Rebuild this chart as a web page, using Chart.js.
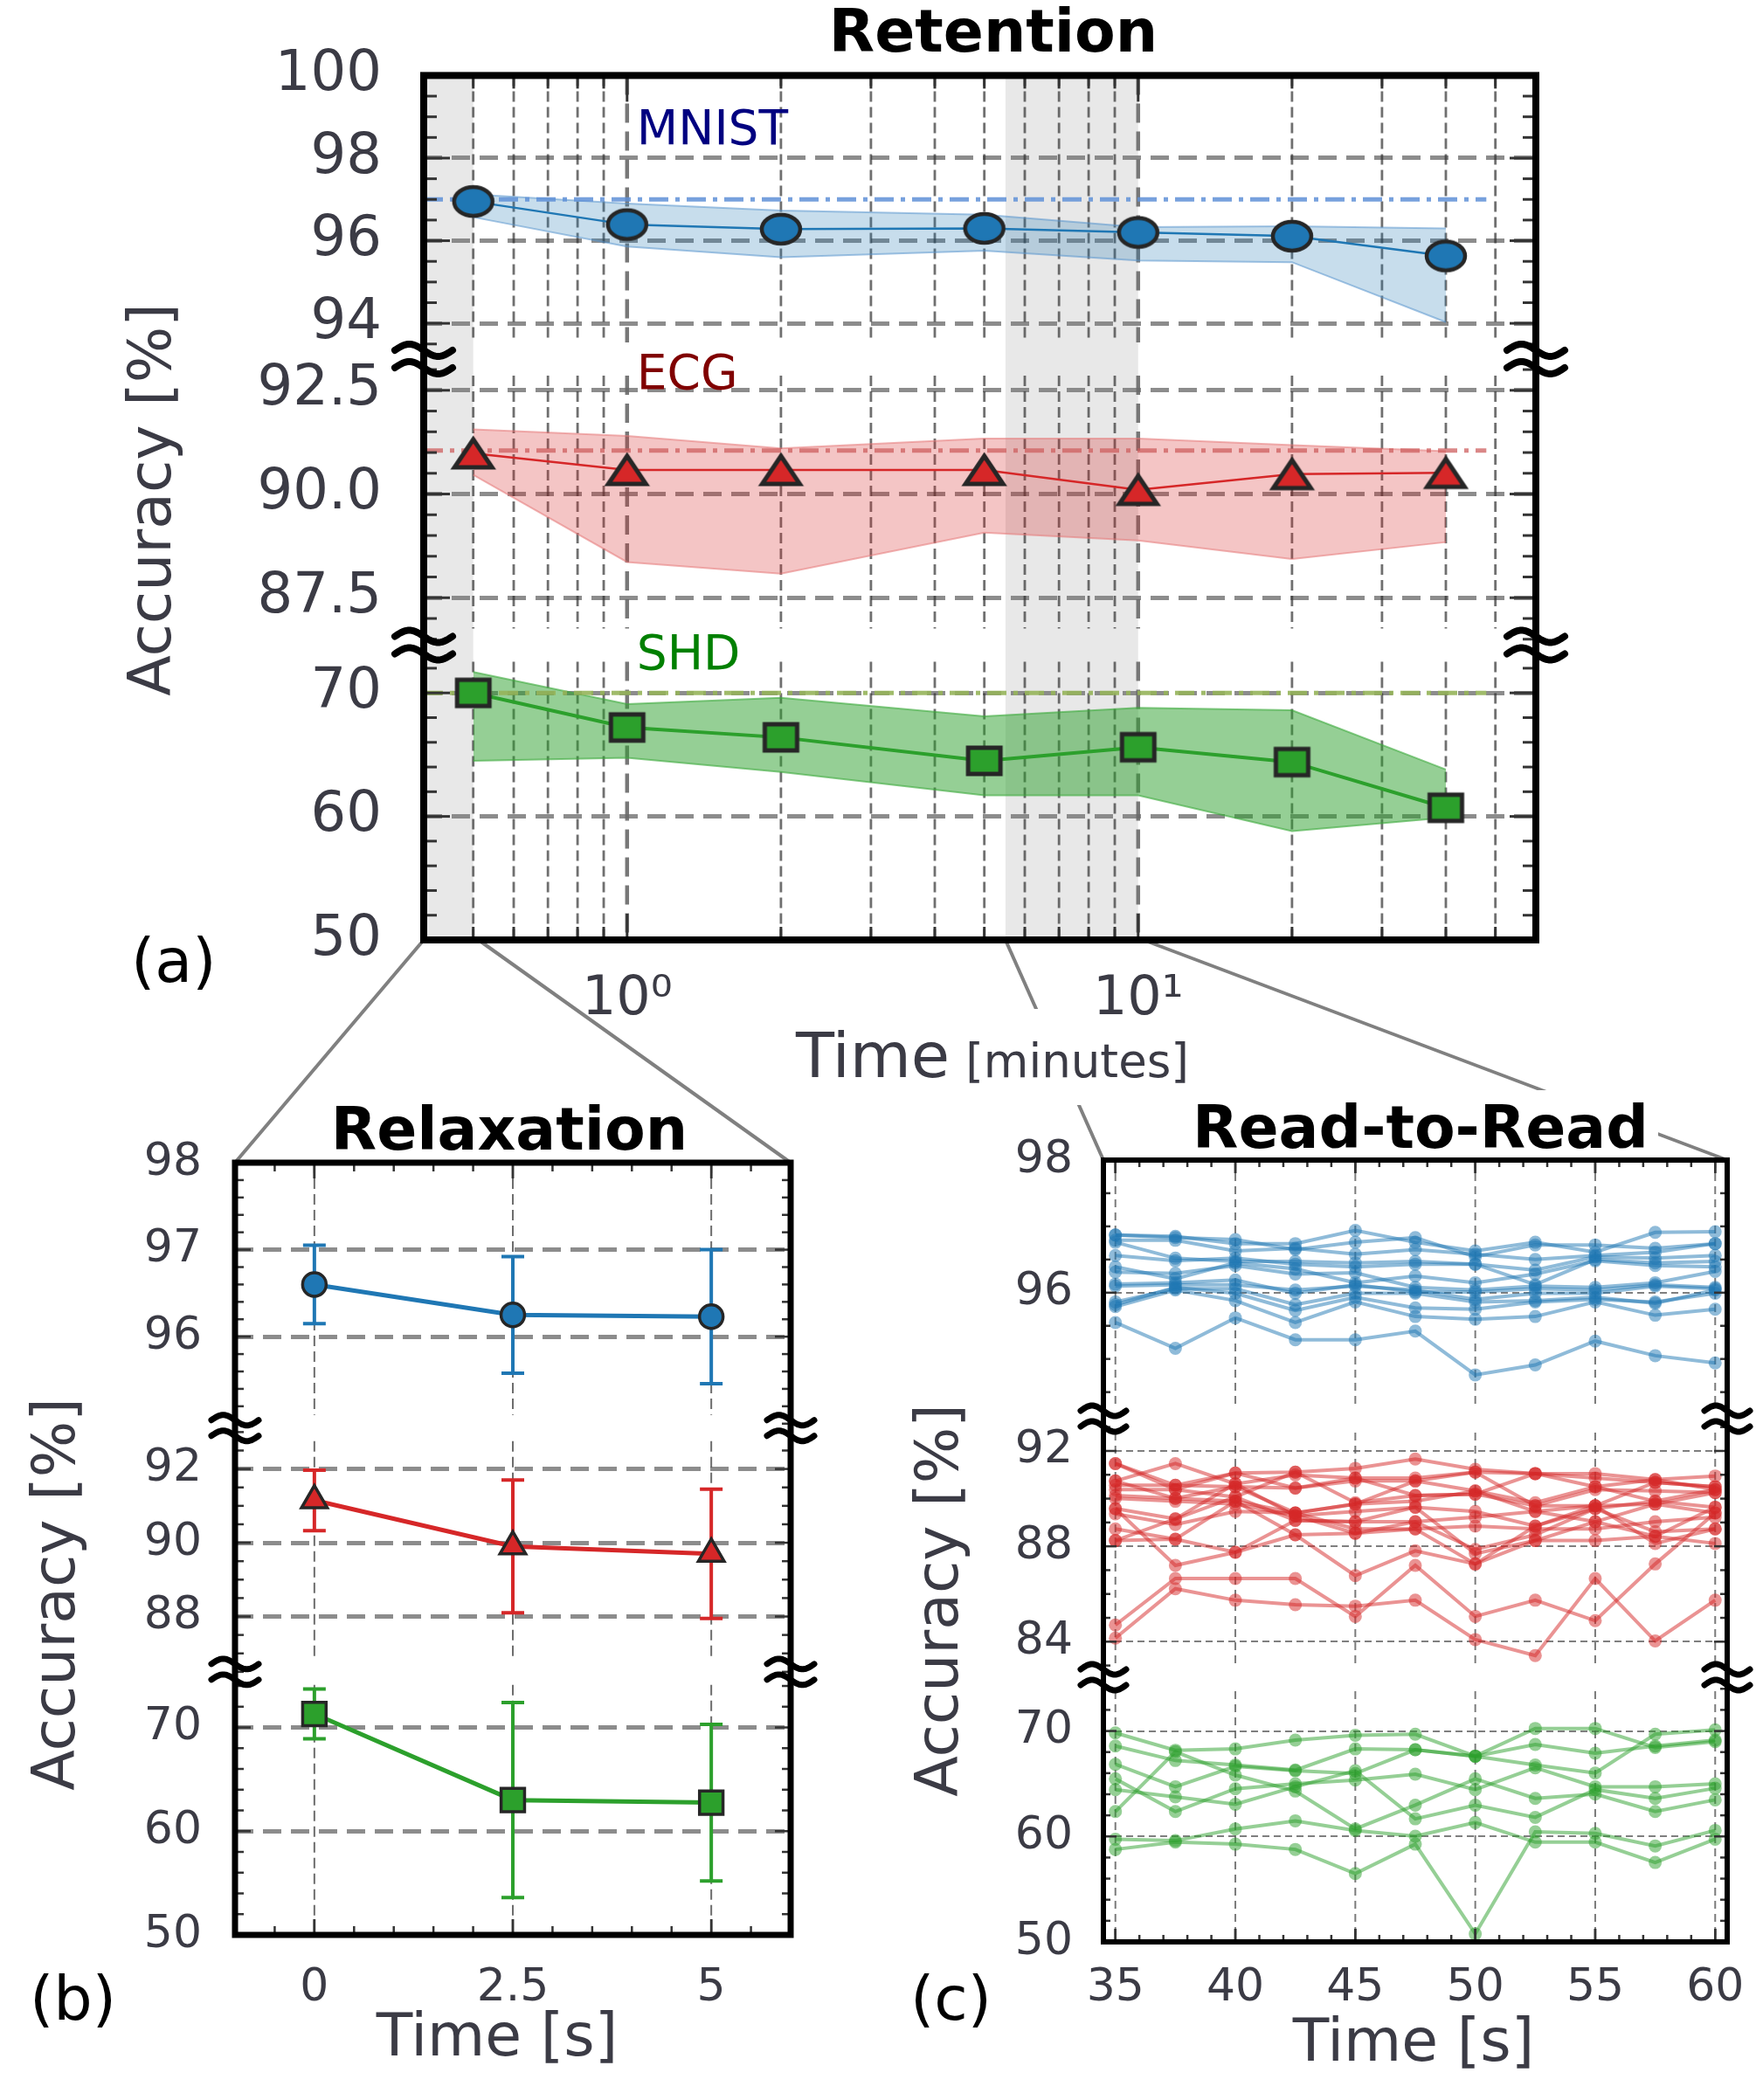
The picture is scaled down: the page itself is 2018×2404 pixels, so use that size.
<!DOCTYPE html>
<html>
<head>
<meta charset="utf-8">
<script src="https://cdn.jsdelivr.net/npm/chart.js@4.4.1/dist/chart.umd.min.js"></script>
<style>
  html, body { margin:0; padding:0; background:#ffffff; }
  body { width:2018px; height:2404px; position:relative; overflow:hidden; }
  canvas { position:absolute; }
</style>
</head>
<body>
<canvas id="conn" width="2018" height="2404" style="left:0px;top:0px;width:2018px;height:2404px"></canvas>
<canvas id="ca" width="2018" height="1300" style="left:0px;top:0px"></canvas>
<canvas id="cb" width="1000" height="1164" style="left:0px;top:1240px"></canvas>
<canvas id="cc" width="1018" height="1164" style="left:1000px;top:1240px"></canvas>
<script>
// ================= DATA =================
// (a) Retention  (time in minutes)
const retTimes   = [0.5, 1, 2, 5, 10, 20, 40];
const retMNIST   = [96.95, 96.39, 96.28, 96.30, 96.20, 96.11, 95.63];
const retMNISTHi = [97.12, 96.90, 96.73, 96.63, 96.33, 96.35, 96.30];
const retMNISTLo = [96.57, 95.86, 95.60, 95.76, 95.52, 95.48, 94.03];
const retECG     = [90.98, 90.58, 90.58, 90.58, 90.10, 90.48, 90.51];
const retECGHi   = [91.56, 91.40, 91.10, 91.34, 91.34, 91.18, 91.03];
const retECGLo   = [90.46, 88.36, 88.08, 89.07, 88.88, 88.43, 88.84];
const retSHD     = [70.0, 67.2, 66.4, 64.5, 65.6, 64.4, 60.7];
const retSHDHi   = [71.7, 69.1, 69.6, 68.1, 68.8, 68.6, 63.8];
const retSHDLo   = [64.5, 64.75, 63.6, 61.7, 61.7, 58.8, 59.9];
const retBaseline     = [97.0, 91.05, 70.0];   // MNIST, ECG, SHD reference accuracy
const retBaselineSpan = [0.4, 48];
const retShaded  = [[0.4, 0.5], [5.5, 10]];
const retXTicks  = [1, 10];
const retXMinor  = [0.5, 0.6, 0.7, 0.8, 0.9, 2, 3, 4, 5, 6, 7, 8, 9, 20, 30, 40, 50];
const retYTicksMNIST = [94, 96, 98, 100];
const retYTicksECG   = [87.5, 90, 92.5];
const retYTicksSHD   = [50, 60, 70];

// (b) Relaxation (time in s)
const relTimes    = [0, 2.5, 5];
const relMNIST    = [96.60, 96.25, 96.23];
const relMNISTErr = [0.45, 0.67, 0.77];
const relECG      = [91.15, 89.90, 89.70];
const relECGErr   = [0.82, 1.80, 1.75];
const relSHD      = [71.3, 63.0, 62.75];
const relSHDErr   = [2.4, 9.4, 7.55];
const relXTicks   = [0, 2.5, 5];
const relYTicksMNIST = [96, 97, 98];
const relYTicksECG   = [88, 90, 92];
const relYTicksSHD   = [50, 60, 70];

// (c) Read-to-Read (time in s)
const r2rTimes = [35, 37.5, 40, 42.5, 45, 47.5, 50, 52.5, 55, 57.5, 60];
const r2rMNIST = [
  [96.87, 96.85, 96.74, 96.74, 96.94, 96.76, 96.63, 96.76, 96.61, 96.91, 96.92],
  [96.87, 96.83, 96.80, 96.65, 96.76, 96.83, 96.54, 96.72, 96.72, 96.67, 96.74],
  [96.79, 96.79, 96.63, 96.67, 96.58, 96.65, 96.58, 96.50, 96.56, 96.61, 96.74],
  [96.76, 96.52, 96.47, 96.47, 96.45, 96.47, 96.43, 96.34, 96.54, 96.52, 96.56],
  [96.56, 96.48, 96.52, 96.43, 96.39, 96.43, 96.43, 96.12, 96.50, 96.45, 96.47],
  [96.39, 96.21, 96.45, 96.36, 96.15, 96.25, 96.15, 96.28, 96.48, 96.41, 96.39],
  [96.31, 96.29, 96.41, 96.28, 96.30, 96.08, 96.04, 96.10, 96.08, 96.15, 96.32],
  [96.13, 96.15, 96.19, 95.99, 96.12, 96.01, 96.01, 96.06, 96.04, 96.12, 96.08],
  [96.10, 96.12, 96.12, 96.04, 96.10, 96.04, 95.90, 95.99, 95.99, 96.10, 96.06],
  [95.86, 96.06, 96.06, 95.82, 95.99, 95.99, 95.86, 95.88, 95.93, 95.84, 96.04],
  [95.82, 96.08, 95.99, 95.73, 95.93, 95.77, 95.75, 95.86, 95.90, 95.86, 95.99],
  [95.79, 96.04, 95.88, 95.55, 95.86, 95.64, 95.60, 95.64, 95.86, 95.66, 95.75],
  [95.55, 95.16, 95.62, 95.29, 95.29, 95.42, 94.76, 94.91, 95.27, 95.05, 94.94]
];
const r2rECG = [
  [91.47, 90.38, 91.07, 91.11, 91.27, 91.66, 91.23, 91.05, 91.05, 90.80, 90.95],
  [90.74, 91.47, 90.62, 90.99, 90.86, 90.86, 91.11, 91.05, 90.86, 90.68, 90.50],
  [90.56, 90.56, 90.50, 90.44, 90.74, 90.74, 90.32, 89.83, 90.50, 90.80, 90.38],
  [90.38, 90.38, 90.07, 91.11, 89.83, 90.13, 90.19, 89.70, 90.38, 90.32, 90.25],
  [90.13, 90.01, 89.89, 89.40, 89.77, 89.89, 90.32, 89.46, 89.70, 90.68, 90.50],
  [90.01, 89.89, 89.77, 89.28, 89.46, 89.64, 89.46, 88.85, 89.58, 89.89, 89.64],
  [89.58, 89.15, 90.07, 89.09, 89.03, 89.03, 89.22, 89.46, 89.03, 89.77, 89.40],
  [89.36, 88.91, 89.46, 89.40, 88.73, 88.73, 88.85, 88.73, 88.73, 89.03, 89.22],
  [88.73, 88.30, 89.89, 88.48, 88.55, 89.03, 87.87, 88.48, 89.58, 88.61, 88.73],
  [88.24, 88.30, 87.75, 89.09, 89.03, 89.64, 87.69, 88.24, 88.24, 88.42, 88.12],
  [89.58, 87.20, 87.75, 88.48, 86.77, 87.81, 87.26, 88.85, 89.70, 88.12, 88.73],
  [84.70, 86.65, 86.65, 86.65, 85.06, 87.20, 85.06, 85.74, 84.88, 87.26, 89.40],
  [84.15, 86.22, 85.74, 85.55, 85.49, 85.74, 84.09, 83.42, 86.65, 84.03, 85.74],
  [91.47, 90.56, 91.07, 90.44, 90.86, 90.13, 90.19, 91.05, 90.50, 89.89, 90.38],
  [90.74, 90.01, 90.50, 89.40, 89.77, 90.74, 91.11, 89.70, 89.70, 89.77, 90.25],
  [88.24, 89.15, 90.62, 89.28, 88.55, 88.73, 87.26, 88.24, 89.03, 88.42, 89.64]
];
const r2rSHD = [
  [69.82, 68.17, 68.30, 69.13, 69.60, 69.69, 67.61, 70.24, 70.24, 68.44, 68.99],
  [68.58, 67.20, 66.78, 66.29, 68.30, 68.22, 67.61, 68.72, 67.89, 68.58, 69.13],
  [66.84, 64.71, 66.65, 66.23, 65.96, 68.22, 67.61, 66.78, 66.01, 69.69, 70.10],
  [65.46, 62.36, 64.52, 64.99, 65.35, 65.90, 64.44, 66.51, 64.71, 64.71, 64.99],
  [64.44, 63.75, 63.05, 64.71, 66.23, 61.67, 62.97, 61.81, 64.44, 63.61, 64.57],
  [62.36, 68.03, 65.82, 64.30, 60.71, 62.97, 65.46, 63.61, 64.02, 62.36, 63.47],
  [59.74, 59.60, 60.71, 61.48, 60.57, 60.02, 61.32, 59.46, 59.46, 57.53, 59.74],
  [58.77, 59.46, 59.27, 58.77, 56.48, 59.27, 50.76, 60.43, 60.29, 59.10, 60.57]
];
const r2rXTicks = [35, 40, 45, 50, 55, 60];
const r2rYTicksMNIST = [96, 98];
const r2rYTicksECG   = [84, 88, 92];
const r2rYTicksSHD   = [50, 60, 70];

// ================= HELPERS =================
const FONT = "'DejaVu Sans', 'Noto Sans', sans-serif";
const TXT = '#3b3b45';
Chart.defaults.font.family = FONT;
Chart.defaults.color = TXT;

function range(a, b, s) {
  const out = [];
  const n0 = Math.ceil(a / s - 1e-9), n1 = Math.floor(b / s + 1e-9);
  for (let k = n0; k <= n1; k++) out.push(+(k * s).toFixed(6));
  return out;
}
function pts(xs, ys) { return xs.map((x, i) => ({x: x, y: ys[i]})); }

function drawText(ctx, s, x, y, font, color, align, base, rot) {
  ctx.save();
  ctx.font = font; ctx.fillStyle = color;
  ctx.textAlign = align || 'left'; ctx.textBaseline = base || 'alphabetic';
  ctx.translate(x, y); if (rot) ctx.rotate(rot * Math.PI / 180);
  ctx.fillText(s, 0, 0);
  ctx.restore();
}

function drawBreak(ctx, x, y, b) {
  ctx.save();
  ctx.strokeStyle = '#000'; ctx.lineWidth = b.lw; ctx.lineCap = 'round'; ctx.lineJoin = 'round';
  ctx.setLineDash([]);
  [-b.sep / 2, b.sep / 2].forEach(dy => {
    ctx.beginPath();
    for (let k = 0; k <= 30; k++) {
      const t = k / 30;
      const px = x - b.w / 2 + t * b.w;
      const py = y + dy - b.amp * Math.sin(2 * Math.PI * t);
      if (k === 0) ctx.moveTo(px, py); else ctx.lineTo(px, py);
    }
    ctx.stroke();
  });
  ctx.restore();
}

function markerImg(shape, w, h, fill, lw) {
  const pad = Math.ceil(lw) + 4;
  const c = document.createElement('canvas');
  c.width = Math.ceil(w + 2 * pad); c.height = Math.ceil(h + 2 * pad);
  const g = c.getContext('2d');
  const cx = c.width / 2, cy = c.height / 2;
  g.fillStyle = fill; g.strokeStyle = '#262626'; g.lineWidth = lw; g.lineJoin = 'miter';
  g.beginPath();
  if (shape === 'ellipse') g.ellipse(cx, cy, w / 2, h / 2, 0, 0, Math.PI * 2);
  else if (shape === 'tri') { g.moveTo(cx, cy - h / 2); g.lineTo(cx + w / 2, cy + h / 2); g.lineTo(cx - w / 2, cy + h / 2); g.closePath(); }
  else g.rect(cx - w / 2, cy - h / 2, w, h);
  g.fill(); g.stroke();
  return c;
}

function panelPlugin(P) {
  return {
    id: 'panel' + P.name,
    beforeDraw(chart) {
      const ctx = chart.ctx, ca = chart.chartArea, xs = chart.scales.x;
      ctx.save();
      ctx.fillStyle = '#ffffff';
      (P.whiteBoxes || []).forEach(b => ctx.fillRect(b[0], b[1], b[2], b[3]));
      (P.bands || []).forEach(b => {
        const x0 = xs.getPixelForValue(b[0]), x1 = xs.getPixelForValue(b[1]);
        ctx.fillStyle = P.bandColor;
        ctx.fillRect(x0, ca.top, x1 - x0, ca.bottom - ca.top);
      });
      ctx.restore();
    },
    beforeDatasetsDraw(chart) {
      const ctx = chart.ctx, xs = chart.scales.x, n = P.segs.length;
      const spans = P.segs.map((s, i) => {
        const sc = chart.scales[s.id];
        return [sc.top + (i > 0 ? P.gap : 0), sc.bottom - (i < n - 1 ? P.gap : 0)];
      });
      P.vlines.forEach(g => {
        ctx.save();
        ctx.strokeStyle = g.color; ctx.lineWidth = g.width; ctx.setLineDash(g.dash);
        g.values.forEach(v => {
          const x = xs.getPixelForValue(v);
          spans.forEach(sp => { ctx.beginPath(); ctx.moveTo(x, sp[0]); ctx.lineTo(x, sp[1]); ctx.stroke(); });
        });
        ctx.restore();
      });
    },
    afterDraw(chart) {
      const ctx = chart.ctx, ca = chart.chartArea, xs = chart.scales.x;
      const L = ca.left, R = ca.right, T = ca.top, B = ca.bottom;
      ctx.save();
      ctx.strokeStyle = P.tickColor; ctx.lineWidth = P.tickWidth; ctx.setLineDash([]);
      const seg = (x0, y0, x1, y1) => { ctx.beginPath(); ctx.moveTo(x0, y0); ctx.lineTo(x1, y1); ctx.stroke(); };
      P.segs.forEach(s => {
        const sc = chart.scales[s.id];
        range(s.min, s.max, s.minor).forEach(v => {
          const len = s.ticks.some(t => Math.abs(t - v) < 1e-6) ? P.majorLen : P.minorLen;
          const y = sc.getPixelForValue(v);
          seg(L, y, L + len, y); seg(R, y, R - len, y);
        });
      });
      P.xMinor.concat(P.xTicks).forEach(v => {
        const len = P.xTicks.indexOf(v) >= 0 ? P.majorLen : P.minorLen;
        const x = xs.getPixelForValue(v);
        seg(x, B, x, B - len); seg(x, T, x, T + len);
      });
      ctx.strokeStyle = '#000'; ctx.lineWidth = P.frameWidth; ctx.lineJoin = 'miter';
      ctx.strokeRect(L, T, R - L, B - T);
      ctx.restore();
      for (let i = 0; i < P.segs.length - 1; i++) {
        const y = chart.scales[P.segs[i].id].bottom;
        drawBreak(ctx, L, y, P.brk); drawBreak(ctx, R, y, P.brk);
      }
      P.texts(chart, ctx);
    }
  };
}

function makeChart(id, P, datasets, xCfg, pad) {
  const scales = { x: xCfg };
  P.segs.forEach((s, i) => {
    scales[s.id] = {
      type: 'linear', position: 'left', stack: 'ystack', stackWeight: s.weight, weight: P.segs.length - i,
      min: s.min, max: s.max,
      afterBuildTicks: sc => { sc.ticks = s.ticks.map(v => ({value: v})); },
      afterFit: sc => { sc.width = P.yWidth; },
      grid: { display: true, drawOnChartArea: true, drawTicks: false, color: P.hColor, lineWidth: P.hWidth },
      border: { display: false, dash: P.hDash },
      ticks: { autoSkip: false, padding: P.yPad, color: TXT, font: { size: P.yFont }, callback: v => s.fmt(v) }
    };
  });
  return new Chart(document.getElementById(id), {
    type: 'line',
    data: { datasets: datasets },
    options: {
      responsive: false, animation: false, devicePixelRatio: 1, events: [],
      layout: { padding: pad },
      plugins: { legend: { display: false }, tooltip: { enabled: false }, title: { display: false } },
      elements: { line: { tension: 0 } },
      scales: scales
    },
    plugins: [panelPlugin(P)]
  });
}
const intFmt = v => String(v);

// ================= (a) RETENTION =================
const PA = {
  name: 'A',
  segs: [
    { id: 'y1', min: 93.137, max: 100, weight: 326, ticks: retYTicksMNIST, minor: 0.5, fmt: intFmt },
    { id: 'y2', min: 86.358, max: 93.255, weight: 329, ticks: retYTicksECG, minor: 0.5, fmt: v => v.toFixed(1) },
    { id: 'y3', min: 50, max: 73.87, weight: 339, ticks: retYTicksSHD, minor: 2, fmt: intFmt }
  ],
  yWidth: 485, yPad: 48, yFont: 64,
  hColor: 'rgba(128,128,128,0.9)', hWidth: 5, hDash: [21, 11],
  xTicks: retXTicks, xMinor: retXMinor,
  vlines: [
    { values: retXMinor, color: 'rgba(50,50,50,0.7)', width: 2.8, dash: [12, 6] },
    { values: retXTicks, color: 'rgba(105,105,105,0.9)', width: 4.5, dash: [22, 10] }
  ],
  gap: 19, bands: retShaded, bandColor: '#e8e8e8',
  tickColor: '#333', tickWidth: 3, minorLen: 15, majorLen: 30, frameWidth: 8,
  brk: { w: 66, sep: 20, amp: 7, lw: 8 },
  whiteBoxes: [[905, 1155, 465, 110]],
  texts: (chart, ctx) => {
    const xs = chart.scales.x;
    drawText(ctx, 'Retention', 1137, 59, 'bold 68px ' + FONT, '#000', 'center');
    drawText(ctx, 'Accuracy [%]', 177, 572, '68px ' + FONT, TXT, 'center', 'middle', -90);
    drawText(ctx, '(a)', 150, 1106, '70px ' + FONT, '#000', 'left', 'middle');
    const lx = xs.getPixelForValue(1) + 11;
    drawText(ctx, 'MNIST', lx, chart.scales.y1.getPixelForValue(98.65), '55px ' + FONT, '#000080', 'left', 'middle');
    drawText(ctx, 'ECG', lx, chart.scales.y2.getPixelForValue(92.84), '55px ' + FONT, '#800000', 'left', 'middle');
    drawText(ctx, 'SHD', lx, chart.scales.y3.getPixelForValue(72.96), '55px ' + FONT, '#008000', 'left', 'middle');
    ctx.save();
    ctx.font = '72px ' + FONT; const w1 = ctx.measureText('Time').width;
    ctx.font = '53px ' + FONT; const w2 = ctx.measureText('[minutes]').width;
    ctx.restore();
    const gapT = 18, x0 = 1136 - (w1 + gapT + w2) / 2;
    drawText(ctx, 'Time', x0, 1233, '72px ' + FONT, TXT, 'left');
    drawText(ctx, '[minutes]', x0 + w1 + gapT, 1233, '53px ' + FONT, TXT, 'left');
  }
};
const supDigits = { '0': '\u2070', '1': '\u00B9', '2': '\u00B2' };
const retGroups = [
  { axis: 'y1', mean: retMNIST, hi: retMNISTHi, lo: retMNISTLo, base: retBaseline[0], color: '#1f77b4',
    edge: 'rgba(90,150,205,0.55)', fill: 'rgba(31,119,180,0.25)', baseColor: 'rgba(95,145,215,0.85)',
    marker: markerImg('ellipse', 44, 33, '#1f77b4', 4.5), lw: 2.5 },
  { axis: 'y2', mean: retECG, hi: retECGHi, lo: retECGLo, base: retBaseline[1], color: '#d62728',
    edge: 'rgba(230,120,120,0.55)', fill: 'rgba(214,39,40,0.27)', baseColor: 'rgba(205,95,95,0.75)',
    marker: markerImg('tri', 43, 32, '#d62728', 5), lw: 2.5 },
  { axis: 'y3', mean: retSHD, hi: retSHDHi, lo: retSHDLo, base: retBaseline[2], color: '#2ca02c',
    edge: 'rgba(60,170,60,0.6)', fill: 'rgba(44,160,44,0.5)', baseColor: 'rgba(150,180,90,0.9)',
    marker: markerImg('rect', 37, 30, '#2ca02c', 5), lw: 4 }
];
const dsA = [];
retGroups.forEach(g => {
  dsA.push({ data: pts(retTimes, g.hi), yAxisID: g.axis, borderColor: g.edge, borderWidth: 2, pointRadius: 0, fill: false, order: 3 });
  dsA.push({ data: pts(retTimes, g.lo), yAxisID: g.axis, borderColor: g.edge, borderWidth: 2, pointRadius: 0, fill: '-1', backgroundColor: g.fill, order: 3 });
  dsA.push({ data: pts(retBaselineSpan, [g.base, g.base]), yAxisID: g.axis, borderColor: g.baseColor, borderWidth: 5,
             borderDash: [22, 8, 5, 8], pointRadius: 0, fill: false, order: 2 });
  dsA.push({ data: pts(retTimes, g.mean), yAxisID: g.axis, borderColor: g.color, borderWidth: g.lw,
             pointStyle: g.marker, pointRadius: 20, fill: false, order: 1 });
});
const chartA = makeChart('ca', PA, dsA, {
  type: 'logarithmic', position: 'bottom', min: 0.4, max: 60,
  afterBuildTicks: sc => { sc.ticks = retXTicks.map(v => ({ value: v })); },
  afterFit: sc => { sc.height = 1300 - 1076; },
  grid: { display: false }, border: { display: false },
  ticks: { autoSkip: false, maxRotation: 0, minRotation: 0, padding: 24, color: TXT, font: { size: 62 },
           callback: v => '10' + String(Math.round(Math.log10(v))).split('').map(d => supDigits[d]).join('') }
}, { left: 0, top: 82, right: 260, bottom: 0 });

// ================= (b) RELAXATION =================
const PB = {
  name: 'B',
  segs: [
    { id: 'y1', min: 94.95, max: 98, weight: 303.6, ticks: relYTicksMNIST, minor: 0.2, fmt: intFmt },
    { id: 'y2', min: 86.50, max: 93.11, weight: 279, ticks: relYTicksECG, minor: 0.5, fmt: intFmt },
    { id: 'y3', min: 50, max: 75.36, weight: 301, ticks: relYTicksSHD, minor: 2, fmt: intFmt }
  ],
  yWidth: 269, yPad: 38, yFont: 52,
  hColor: 'rgba(128,128,128,0.9)', hWidth: 5, hDash: [21, 11],
  xTicks: relXTicks, xMinor: range(-1, 6, 0.5),
  vlines: [ { values: relXTicks, color: 'rgba(60,60,60,0.75)', width: 2, dash: [12, 6] } ],
  gap: 15,
  tickColor: '#333', tickWidth: 2.5, minorLen: 10, majorLen: 18, frameWidth: 7,
  brk: { w: 54, sep: 18, amp: 6, lw: 7 },
  texts: (chart, ctx) => {
    drawText(ctx, 'Relaxation', 583, 76, 'bold 68px ' + FONT, '#000', 'center');
    drawText(ctx, 'Accuracy [%]', 67, 585, '68px ' + FONT, TXT, 'center', 'middle', -90);
    drawText(ctx, '(b)', 34, 1054, '70px ' + FONT, '#000', 'left', 'middle');
    drawText(ctx, 'Time [s]', 569, 1113, '68px ' + FONT, TXT, 'center');
  }
};
const relGroups = [
  { axis: 'y1', mean: relMNIST, err: relMNISTErr, color: '#1f77b4', style: 'circle', r: 13.5 },
  { axis: 'y2', mean: relECG, err: relECGErr, color: '#d62728', style: 'triangle', r: 17 },
  { axis: 'y3', mean: relSHD, err: relSHDErr, color: '#2ca02c', style: 'rect', r: 19 }
];
const dsB = [];
relGroups.forEach(g => {
  dsB.push({ data: pts(relTimes, g.mean), yAxisID: g.axis, borderColor: g.color, borderWidth: 5,
             pointStyle: g.style, pointRadius: g.r, pointBackgroundColor: g.color,
             pointBorderColor: '#262626', pointBorderWidth: 3.5, fill: false, order: 0 });
  relTimes.forEach((t, i) => {
    dsB.push({ data: [{ x: t, y: g.mean[i] - g.err[i] }, { x: t, y: g.mean[i] + g.err[i] }], yAxisID: g.axis,
               borderColor: g.color, borderWidth: 4, pointStyle: 'line', pointRadius: 13,
               pointBorderColor: g.color, pointBorderWidth: 4, fill: false, order: 1 });
  });
});
const chartB = makeChart('cb', PB, dsB, {
  type: 'linear', position: 'bottom', min: -1, max: 6,
  afterBuildTicks: sc => { sc.ticks = relXTicks.map(v => ({ value: v })); },
  afterFit: sc => { sc.height = 1164 - 975; },
  grid: { display: false }, border: { display: false },
  ticks: { autoSkip: false, maxRotation: 0, padding: 22, color: TXT, font: { size: 52 }, callback: v => String(v) }
}, { left: 0, top: 91, right: 95, bottom: 0 });

// ================= (c) READ-TO-READ =================
const PC = {
  name: 'C',
  segs: [
    { id: 'y1', min: 94.10, max: 98, weight: 296, ticks: r2rYTicksMNIST, minor: 0.5, fmt: intFmt },
    { id: 'y2', min: 82.51, max: 93.355, weight: 296, ticks: r2rYTicksECG, minor: 1, fmt: intFmt },
    { id: 'y3', min: 50, max: 75.1, weight: 303, ticks: r2rYTicksSHD, minor: 2, fmt: intFmt }
  ],
  yWidth: 263, yPad: 35, yFont: 52,
  hColor: 'rgba(105,105,105,0.85)', hWidth: 2, hDash: [8, 5],
  xTicks: r2rXTicks, xMinor: range(35, 60, 1),
  vlines: [ { values: r2rXTicks, color: 'rgba(90,90,90,0.8)', width: 2, dash: [9, 6] } ],
  gap: 16,
  tickColor: '#333', tickWidth: 2.5, minorLen: 8, majorLen: 15, frameWidth: 6,
  brk: { w: 52, sep: 18, amp: 6, lw: 7 },
  whiteBoxes: [[358, 8, 540, 80]],
  texts: (chart, ctx) => {
    drawText(ctx, 'Read-to-Read', 626, 74, 'bold 68px ' + FONT, '#000', 'center');
    drawText(ctx, 'Accuracy [%]', 78, 592, '68px ' + FONT, TXT, 'center', 'middle', -90);
    drawText(ctx, '(c)', 42, 1054, '70px ' + FONT, '#000', 'left', 'middle');
    drawText(ctx, 'Time [s]', 618, 1119, '68px ' + FONT, TXT, 'center');
  }
};
const r2rGroups = [
  { axis: 'y1', series: r2rMNIST, color: 'rgba(31,119,180,0.5)' },
  { axis: 'y2', series: r2rECG, color: 'rgba(214,39,40,0.5)' },
  { axis: 'y3', series: r2rSHD, color: 'rgba(44,160,44,0.5)' }
];
const dsC = [];
r2rGroups.forEach(g => g.series.forEach(s => {
  dsC.push({ data: pts(r2rTimes, s), yAxisID: g.axis, borderColor: g.color, borderWidth: 4,
             pointRadius: 7.5, pointBackgroundColor: g.color, pointBorderWidth: 0, fill: false });
}));
const chartC = makeChart('cc', PC, dsC, {
  type: 'linear', position: 'bottom', min: 34.5, max: 60.5,
  afterBuildTicks: sc => { sc.ticks = r2rXTicks.map(v => ({ value: v })); },
  afterFit: sc => { sc.height = 1164 - 983; },
  grid: { display: false }, border: { display: false },
  ticks: { autoSkip: false, maxRotation: 0, padding: 14, color: TXT, font: { size: 52 }, callback: v => String(v) }
}, { left: 0, top: 88, right: 41, bottom: 0 });

// ================= ZOOM CONNECTORS =================
(function drawConnectors() {
  const ctx = document.getElementById('conn').getContext('2d');
  const ax = chartA.scales.x, a = chartA.chartArea;
  const b = chartB.chartArea, c = chartC.chartArea;
  const bx = chartB.canvas.offsetLeft, by = chartB.canvas.offsetTop;
  const cx = chartC.canvas.offsetLeft, cy = chartC.canvas.offsetTop;
  const lines = [
    [a.left, a.bottom, b.left + bx, b.top + by],
    [ax.getPixelForValue(retShaded[0][1]) + 6, a.bottom, b.right + bx, b.top + by],
    [ax.getPixelForValue(retShaded[1][0]), a.bottom, c.left + cx, c.top + cy],
    [ax.getPixelForValue(retShaded[1][1]) + 6, a.bottom, c.right + cx, c.top + cy]
  ];
  ctx.strokeStyle = '#808080'; ctx.lineWidth = 4;
  lines.forEach(l => { ctx.beginPath(); ctx.moveTo(l[0], l[1]); ctx.lineTo(l[2], l[3]); ctx.stroke(); });
})();
</script>
</body>
</html>
